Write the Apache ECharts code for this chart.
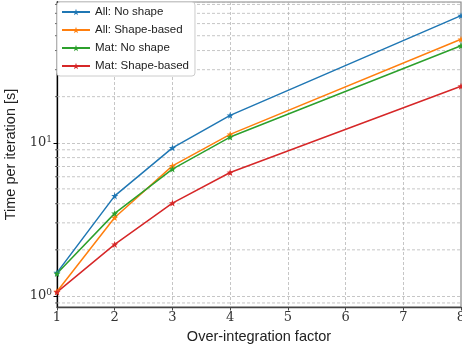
<!DOCTYPE html>
<html><head><meta charset="utf-8">
<script src="https://cdn.jsdelivr.net/npm/echarts@6/dist/echarts.min.js"></script>
<style>html,body{margin:0;padding:0;background:#fff}#c{width:462px;height:347px}</style>
</head><body><div id="c"></div>
<script>
const factors = [1, 2, 3, 4, 8];
const seriesNames = ['All: No shape', 'All: Shape-based', 'Mat: No shape', 'Mat: Shape-based'];
const allNoShape = [1.42, 4.5, 9.27, 15.1, 67.6];
const allShapeBased = [1.07, 3.25, 7.07, 11.35, 47.4];
const matNoShape = [1.40, 3.46, 6.73, 10.9, 43.0];
const matShapeBased = [1.06, 2.17, 4.04, 6.4, 23.4];
const yMinor = [0.9, 2, 3, 4, 5, 6, 7, 8, 9, 20, 30, 40, 50, 60, 70, 80];
const X_MIN = 1, X_MAX = 8, Y_MIN = 0.847, Y_MAX = 83;

const colors = ['#1f77b4', '#ff7f0e', '#2ca02c', '#d62728'];
const star = 'path://M0,-10 L2.35,-3.24 L9.51,-3.09 L3.80,1.24 L5.88,8.09 L0,4 L-5.88,8.09 L-3.80,1.24 L-9.51,-3.09 L-2.35,-3.24 Z';
const allSeries = [allNoShape, allShapeBased, matNoShape, matShapeBased];
const gridColor = '#b8b8b8';
const sansFont = 'Liberation Sans';
const serifFont = 'DejaVu Serif';

const chart = echarts.init(document.getElementById('c'), null, {renderer: 'canvas'});
const lineSeries = allSeries.map((vals, i) => ({
  name: seriesNames[i],
  type: 'line',
  data: factors.map((f, j) => [f, vals[j]]),
  symbol: star,
  symbolSize: 7,
  showSymbol: true,
  itemStyle: {color: colors[i]},
  lineStyle: {color: colors[i], width: 1.5},
  z: 5,
  animation: false
}));

chart.setOption({
  animation: false,
  color: colors,
  grid: {left: 57, right: 1, top: 2, bottom: 40, outerBoundsMode: 'none', containLabel: false,
         show: true, borderColor: '#888', borderWidth: 1.2, backgroundColor: 'transparent'},
  legend: {
    orient: 'vertical', left: 57, top: 2,
    itemWidth: 28, itemHeight: 8, itemGap: 6,
    backgroundColor: '#fff', borderColor: '#cccccc', borderWidth: 1, borderRadius: 3,
    padding: [4, 6, 4, 4],
    textStyle: {fontFamily: sansFont, fontSize: 11.5, color: '#222'},
    data: seriesNames
  },
  xAxis: {
    type: 'value', min: X_MIN, max: X_MAX, interval: 1,
    name: 'Over-integration factor', nameLocation: 'middle', nameGap: 22,
    nameTextStyle: {fontFamily: sansFont, fontSize: 14.5, color: '#222'},
    axisLine: {show: true, lineStyle: {color: '#444', width: 1.3}},
    axisTick: {show: true, length: 3.5, lineStyle: {color: '#444'}},
    axisLabel: {fontFamily: serifFont, fontSize: 13, color: '#333', margin: 4, hideOverlap: false},
    splitLine: {show: true, lineStyle: {color: gridColor, width: 0.8, type: [3, 2]}}
  },
  yAxis: {
    type: 'log', logBase: 10, min: Y_MIN, max: Y_MAX,
    name: 'Time per iteration [s]', nameLocation: 'middle', nameGap: 25,
    nameTextStyle: {fontFamily: sansFont, fontSize: 14.5, color: '#222'},
    axisLine: {show: true, lineStyle: {color: '#000', width: 1.3}},
    axisTick: {show: true, length: 3.5, lineStyle: {color: '#000'}},
    axisLabel: {
      margin: 5,
      showMinLabel: false, showMaxLabel: false,
      formatter: function (v) {
        const l = Math.log10(v);
        if (Math.abs(l - Math.round(l)) > 1e-6) return '';
        return '{b|10}{s|' + Math.round(l) + '}';
      },
      rich: {
        b: {fontFamily: serifFont, fontSize: 13, color: '#333', lineHeight: 16},
        s: {fontFamily: serifFont, fontSize: 9, color: '#333', verticalAlign: 'top', lineHeight: 16}
      }
    },
    splitLine: {show: true, lineStyle: {color: gridColor, width: 0.8, type: [3, 2]}}
  },
  series: [{
    type: 'custom',
    name: 'minor',
    silent: true,
    clip: false,
    z: 1,
    data: yMinor.map(v => [X_MIN, v]),
    renderItem: function (params, api) {
      const v = api.value(1);
      const p1 = api.coord([X_MIN, v]);
      const p2 = api.coord([X_MAX, v]);
      return {
        type: 'group',
        children: [
          {type: 'line', shape: {x1: p1[0], y1: p1[1], x2: p2[0], y2: p2[1]},
           style: {stroke: gridColor, lineWidth: 0.8, lineDash: [3, 2]}},
          {type: 'line', shape: {x1: p1[0] - 2, y1: p1[1], x2: p1[0], y2: p1[1]},
           style: {stroke: '#000', lineWidth: 0.6}}
        ]
      };
    }
  }].concat(lineSeries)
});
</script>
</body></html>
